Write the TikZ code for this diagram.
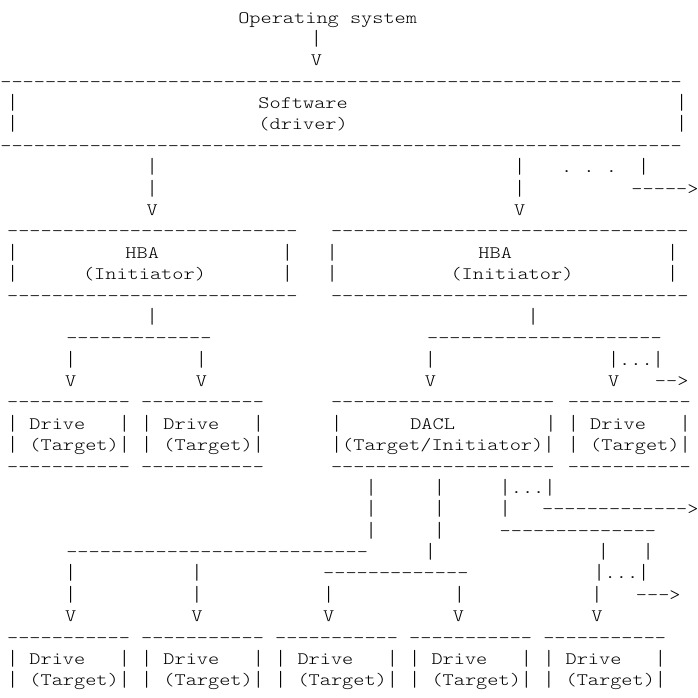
\documentclass[tikz,border=0pt]{standalone}
\usepackage{graphicx}
\usepackage{fontspec}
\newfontfamily\asciifont{lmmonolt10-regular.otf}[FakeStretch=1.216]
\tikzset{%
  ascii/.style={inner sep=0pt,outer sep=0pt,anchor=base west,xshift=-5.585pt,
    font=\asciifont\fontsize{17.5}{21.38}\selectfont},
}
\newcommand{\vb}{\raisebox{-1pt}{\scalebox{1}[1.25]{|}}}
\newcommand{\dashes}[1]{\foreach \dd in {1,...,#1}{-\kern0pt}}
\newcommand{\dashrow}[4]{\node[ascii] (#1) at (#2,#3) {\dashes{#4}};}
\newcommand{\bars}[3]{\foreach \rw in {#3} {\node[ascii] (#1\rw) at (#2,\rw) {\vb};}}
\newcommand{\drivebox}[3]{%
  \pgfmathtruncatemacro\rowa{#3+1}\pgfmathtruncatemacro\rowb{#3+2}%
  \dashrow{#1top}{#2}{#3}{11}
  \bars{#1l}{#2}{\rowa,\rowb}
  \bars{#1r}{#2+10}{\rowa,\rowb}
  \node[ascii] (#1) at (#2+2,\rowa) {Drive};
  \node[ascii] (#1role) at (#2+2,\rowb) {(Target)};}

\begin{document}
\begin{tikzpicture}[x=11.17pt,y=-21.38pt]
  \useasboundingbox[fill=white] (-0.134,-1.08) rectangle (62.355,31.567);

  \node[ascii] (os) at (21.7,0) {Operating};
  \node[ascii] (os2) at (31.7,0) {system};
  \node[ascii] (osbar) at (28.2,1) {\vb};
  \node[ascii] (osarr) at (28.2,2) {V};

  % software box
  \dashrow{swtop}{0.4}{3}{61}
  \bars{swl}{1}{4,5}
  \bars{swr}{60.9}{4,5}
  \node[ascii] (sw) at (23.5,4) {Software};
  \node[ascii] (swrole) at (23.5,5) {(driver)};
  \dashrow{swbot}{0.4}{6}{61}

  \bars{swa}{13.5}{7,8}
  \node[ascii] (swaarr) at (13.5,9) {V};
  \bars{swb}{46.4}{7,8}
  \node[ascii] (swbarr) at (46.4,9) {V};
  \foreach \dd in {0,2,4} {\node[ascii] (swdot\dd) at (50.6+\dd,7) {.};}
  \node[ascii] (swcbar) at (57.5,7) {\vb};
  \node[ascii] (swcarr) at (56.9,8) {\dashes{5}>};

  % HBAs
  \dashrow{hbaAtop}{1}{10}{26}
  \bars{hbaAl}{1}{11,12}
  \bars{hbaAr}{25.6}{11,12}
  \node[ascii] (hbaA) at (11.6,11) {HBA};
  \node[ascii] (hbaArole) at (7.8,12) {(Initiator)};
  \dashrow{hbaAbot}{1}{13}{26}

  \dashrow{hbaBtop}{30}{10}{32}
  \bars{hbaBl}{29.6}{11,12}
  \bars{hbaBr}{60.1}{11,12}
  \node[ascii] (hbaB) at (43.2,11) {HBA};
  \node[ascii] (hbaBrole) at (40.7,12) {(Initiator)};
  \dashrow{hbaBbot}{30}{13}{32}

  \node[ascii] (hbaAbar) at (13.5,14) {\vb};
  \dashrow{hbaAfork}{6.3}{15}{13}
  \node[ascii] (hbaAa) at (6.2,16) {\vb};
  \node[ascii] (hbaAaarr) at (6.2,17) {V};
  \node[ascii] (hbaAb) at (17.9,16) {\vb};
  \node[ascii] (hbaAbarr) at (17.9,17) {V};

  \node[ascii] (hbaBbar) at (47.6,14) {\vb};
  \dashrow{hbaBfork}{38.6}{15}{21}
  \node[ascii] (hbaBa) at (38.4,16) {\vb};
  \node[ascii] (hbaBaarr) at (38.4,17) {V};
  \node[ascii] (hbaBb) at (54.8,16) {\vb...\vb};
  \node[ascii] (hbaBbarr) at (54.8,17) {V};
  \node[ascii] (hbaBmore) at (59,17) {\dashes{2}>};

  % drives and DACL
  \drivebox{drvA}{1}{18}
  \dashrow{drvAbot}{1}{21}{11}
  \drivebox{drvB}{13}{18}
  \dashrow{drvBbot}{13}{21}{11}
  \drivebox{drvC}{51.2}{18}
  \dashrow{drvCbot}{51.2}{21}{11}

  \dashrow{dacltop}{30}{18}{20}
  \node[ascii] (daclL) at (30,19) {\vb};
  \node[ascii] (dacl) at (37.1,19) {DACL};
  \node[ascii] (daclR) at (49.2,19) {\vb};
  \node[ascii] (daclrole) at (30,20) {\vb(Target/Initiator)\vb};
  \dashrow{daclbot}{30}{21}{20}

  \bars{daclA}{33.1}{22,23,24}
  \bars{daclB}{39.2}{22,23,24}
  \node[ascii] (daclC) at (45.1,22) {\vb...\vb};
  \node[ascii] (daclCbar) at (45.1,23) {\vb};
  \node[ascii] (daclCmore) at (48.9,23) {\dashes{13}>};
  \dashrow{daclCfork}{45.1}{24}{14}

  \dashrow{daclAfork}{6.3}{25}{27}
  \node[ascii] (daclBbar) at (38.4,25) {\vb};
  \node[ascii] (daclCa) at (53.9,25) {\vb};
  \node[ascii] (daclCb) at (57.9,25) {\vb};
  \dashrow{daclBfork}{29.3}{26}{13}
  \node[ascii] (daclCdots) at (53.5,26) {\vb...\vb};

  \bars{dskAin}{6.2}{26,27}
  \bars{dskBin}{17.5}{26,27}
  \node[ascii] (dskCin) at (29.3,27) {\vb};
  \node[ascii] (dskDin) at (41,27) {\vb};
  \node[ascii] (dskEin) at (53.3,27) {\vb};
  \node[ascii] (daclCmore2) at (57.3,27) {\dashes{3}>};
  \foreach \nm/\cl in {A/6.2,B/17.5,C/29.3,D/40.9,E/53.3}
    {\node[ascii] (dsk\nm arr) at (\cl,28) {V};}

  \drivebox{dskA}{1}{29}
  \drivebox{dskB}{13}{29}
  \drivebox{dskC}{25}{29}
  \drivebox{dskD}{37}{29}
  \drivebox{dskE}{49}{29}
\end{tikzpicture}
\end{document}
